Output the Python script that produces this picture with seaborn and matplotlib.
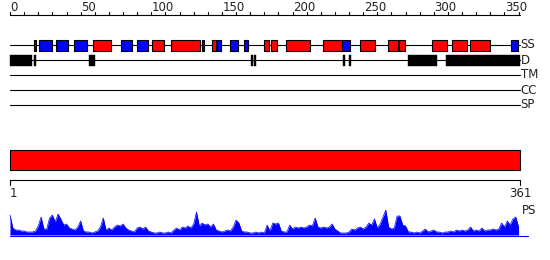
import matplotlib
matplotlib.use("Agg")
import matplotlib.pyplot as plt
import seaborn as sns
import pandas as pd

# ---------------- data ----------------
seq_len = 361
ruler_major = [0, 50, 100, 150, 200, 250, 300, 350]
ruler_minor = list(range(0, 361, 10))
track_labels = ["SS", "D", "TM", "CC", "SP"]

# secondary structure elements (H = helix red, E = strand blue)
ss_start = [17.2, 20.7, 32.6, 45.3, 59.0, 78.8, 90.1, 100.7, 114.2, 136.1, 143.2, 146.3, 155.9,
            165.4, 180.0, 184.8, 195.5, 221.7, 234.7, 247.9, 267.7, 275.1, 298.9, 313.0, 325.8, 354.7]
ss_end = [18.4, 30.0, 40.8, 54.3, 71.3, 86.6, 97.4, 108.8, 134.3, 137.3, 146.0, 149.1, 161.1,
          168.2, 183.1, 189.2, 212.1, 234.7, 240.4, 258.1, 274.6, 279.3, 309.5, 323.2, 339.9, 359.3]
ss_type = ["E", "E", "E", "E", "H", "E", "E", "H", "H", "E", "H", "E", "E",
           "E", "H", "H", "H", "H", "E", "H", "H", "H", "H", "H", "H", "E"]

# disordered regions
d_start = [0, 17.0, 56.0, 170.6, 172.7, 235.7, 239.7, 281.7, 308.6]
d_end = [15.4, 18.4, 60.0, 171.8, 173.9, 236.9, 241.1, 302.0, 361]

# domain bar
dom_start = [0]
dom_end = [361]

# PS profile (every 2 residues)
ps_pos = list(range(0, 361, 2))
ps_val = [20, 7, 5, 5, 4, 4, 3, 3, 3, 4, 9, 18, 6, 6, 17, 20, 13, 21, 16, 10,
          11, 7, 6, 5, 8, 14, 4, 3, 3, 2, 3, 4, 8, 17, 5, 7, 5, 8, 10, 9,
          11, 7, 5, 4, 3, 7, 8, 6, 8, 4, 3, 2, 2, 3, 2, 2, 3, 2, 5, 7,
          5, 8, 7, 9, 7, 11, 23, 9, 12, 10, 11, 8, 11, 5, 4, 3, 4, 5, 4, 8,
          15, 12, 4, 3, 3, 2, 2, 3, 2, 3, 2, 10, 4, 12, 11, 12, 4, 3, 3, 10,
          6, 8, 7, 8, 7, 8, 10, 9, 17, 8, 7, 8, 7, 8, 11, 6, 4, 2, 2, 2,
          3, 6, 5, 7, 8, 6, 8, 12, 10, 16, 7, 11, 18, 25, 8, 6, 7, 19, 19, 10,
          9, 3, 3, 2, 3, 2, 4, 6, 3, 4, 5, 3, 3, 2, 3, 3, 4, 3, 5, 4,
          5, 4, 5, 8, 4, 5, 4, 7, 4, 5, 5, 6, 5, 6, 12, 8, 14, 10, 16, 18, 8]

# ---------------- layout ----------------
W, H = 550, 260
x0_px, x1_px = 10, 520
k = (x1_px - x0_px) / seq_len
xlim = (-x0_px / k, (W - x0_px) / k)

sns.set_style("white")
plt.rcParams['font.family'] = ['DejaVu Sans']

fig = plt.figure(figsize=(W / 100, H / 100), dpi=100)
ax = fig.add_axes([0, 0, 1, 1])
ax.set_xlim(*xlim)
ax.set_ylim(H, 0)
ax.axis("off")

lw = 0.8
fs = 8.5

# top ruler
ruler_y = 15
ax.plot([0, seq_len], [ruler_y, ruler_y], color="black", lw=lw)
for t in ruler_minor:
    ax.plot([t, t], [ruler_y - 3, ruler_y], color="black", lw=lw)
for t in ruler_major:
    ax.text(t + 0.5 / k, 11, str(t), ha="left", va="baseline", fontsize=fs, color="#222222")

# tracks
track_y = {"SS": 45, "D": 60, "TM": 75, "CC": 90, "SP": 105}
for name in track_labels:
    y = track_y[name]
    ax.plot([0, seq_len], [y, y], color="black", lw=lw, zorder=1)
    ax.text(seq_len + 0.5 / k, y, name, ha="left", va="center", fontsize=fs, color="#222222")

# SS boxes
col = {"H": "#ff0000", "E": "#0000ff"}
ss_df = pd.DataFrame({"start": ss_start, "end": ss_end, "type": ss_type})
for _, r in ss_df.iterrows():
    ax.broken_barh([(r["start"], r["end"] - r["start"])], (track_y["SS"] - 5.5, 11),
                   facecolors=col[r["type"]], edgecolors="black", linewidth=lw, zorder=3)

# disorder boxes
for s, e in zip(d_start, d_end):
    ax.broken_barh([(s, e - s)], (track_y["D"] - 5.5, 11), facecolors="black",
                   edgecolors="black", linewidth=0.3, zorder=3)

# domain bar
for s, e in zip(dom_start, dom_end):
    ax.broken_barh([(s, e - s)], (150, 20), facecolors="#ff0000", edgecolors="black",
                   linewidth=lw, zorder=3)

# bottom ruler
by = 180
ax.plot([0, seq_len], [by, by], color="black", lw=lw)
for t in [0, seq_len]:
    ax.plot([t, t], [by, by + 5], color="black", lw=lw)
ax.text(0, 197, "1", ha="left", va="baseline", fontsize=fs, color="#222222")
ax.text(seq_len, 197, "361", ha="center", va="baseline", fontsize=fs, color="#222222")
ax.text(seq_len + 1.5 / k, 211, "PS", ha="left", va="center", fontsize=fs, color="#222222")

# PS baseline
ax.plot([0, seq_len + 8 / k], [235.5, 235.5], color="#0000ff", lw=0.8)

# PS profile
ps_ax = fig.add_axes([0, (H - 235) / H, 1, 25 / H])
ps_ax.set_xlim(*xlim)
ps_ax.set_ylim(0, 25)
ps_ax.axis("off")
ps_df = pd.DataFrame({"pos": ps_pos, "ps": ps_val})
sns.lineplot(data=ps_df, x="pos", y="ps", ax=ps_ax, color="#0000ff", lw=0.5)
ps_ax.fill_between(ps_df["pos"], 0, ps_df["ps"], color="#0000ff", lw=0)

fig.savefig("out.png", dpi=100)
